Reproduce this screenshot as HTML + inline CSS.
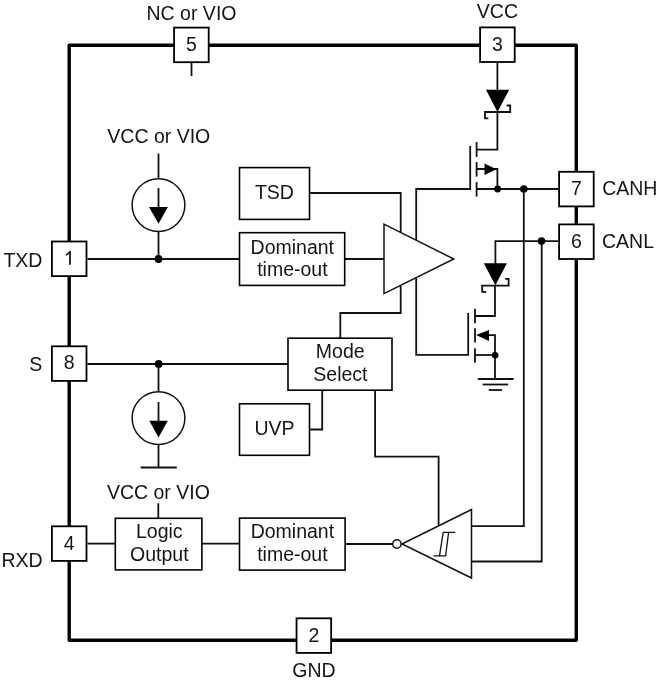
<!DOCTYPE html>
<html><head><meta charset="utf-8">
<style>
html,body{margin:0;padding:0;background:#fff;}
body{width:660px;height:680px;overflow:hidden;}
svg{display:block;filter:grayscale(1);}
text{font-family:"Liberation Sans",sans-serif;font-size:19.5px;fill:#151515;}
</style></head>
<body>
<svg width="660" height="680" viewBox="0 0 660 680">
<!-- outer border -->
<rect x="69.2" y="45.3" width="507.1" height="595" fill="none" stroke="#000" stroke-width="3.4" stroke-linejoin="round"/>

<g fill="none" stroke="#111" stroke-width="1.8">
<!-- wires -->
<!-- pin5 tick -->
<line x1="191.5" y1="62" x2="191.5" y2="76"/>
<!-- pin3 to diode -->
<line x1="497.4" y1="62" x2="497.4" y2="90"/>
<!-- diode1 cathode -->
<polyline points="506.6,105.5 510.2,105.5 510.2,112 485,112 485,118.3 488.4,118.3"/>
<!-- to drain -->
<polyline points="497.4,111 497.4,149.6 476.6,149.6"/>
<!-- transistor1 channel -->
<line x1="476.6" y1="142.1" x2="476.6" y2="156.9"/>
<line x1="476.6" y1="162.1" x2="476.6" y2="176.6"/>
<line x1="476.6" y1="182.1" x2="476.6" y2="196.6"/>
<!-- gate1 -->
<polyline points="416.2,240 416.2,189 470.2,189 470.2,146"/>
<!-- body1 -->
<polyline points="476.6,169 497.4,169 497.4,189"/>
<!-- source1 / CANH -->
<line x1="476.6" y1="189" x2="558" y2="189"/>
<polyline points="523.8,189 523.8,526.2 471.2,526.2"/>
<!-- CANL -->
<polyline points="558,241.1 495.4,241.1 495.4,264"/>
<polyline points="541.7,241 541.7,561.5 471.2,561.5"/>
<!-- diode2 cathode -->
<polyline points="505.2,278.9 508.6,278.9 508.6,285.6 482.2,285.6 482.2,291.8 486.2,291.8"/>
<polyline points="495,285 495,316 475,316"/>
<!-- transistor2 channel -->
<line x1="475" y1="308.7" x2="475" y2="323.2"/>
<line x1="475" y1="328.2" x2="475" y2="342.6"/>
<line x1="475" y1="348.2" x2="475" y2="362.8"/>
<!-- gate2 -->
<polyline points="416.2,278 416.2,354.9 468.2,354.9 468.2,313.1"/>
<!-- body2 -->
<polyline points="486,335.1 495,335.1 495,379"/>
<line x1="475" y1="355" x2="495" y2="355"/>
<!-- ground -->
<line x1="477.8" y1="379" x2="513.6" y2="379"/>
<line x1="482.7" y1="384.5" x2="508.2" y2="384.5"/>
<line x1="488.8" y1="390" x2="502" y2="390"/>

<!-- driver wires -->
<line x1="87.4" y1="259" x2="240" y2="259"/>
<line x1="344" y1="259" x2="384" y2="259"/>
<polyline points="309,193 400.7,193 400.7,232"/>
<polyline points="400.7,286 400.7,313 340.3,313 340.3,338"/>
<!-- current source 1 -->
<line x1="158.5" y1="153.5" x2="158.5" y2="179"/>
<circle cx="158.5" cy="205.1" r="26.4" stroke-width="1.5"/>
<line x1="158.5" y1="188" x2="158.5" y2="210"/>
<line x1="158.5" y1="231" x2="158.5" y2="259"/>
<!-- pin 8 wire -->
<line x1="87.4" y1="364" x2="288" y2="364"/>
<line x1="158.5" y1="364" x2="158.5" y2="392"/>
<circle cx="158.5" cy="418.1" r="26.4" stroke-width="1.5"/>
<line x1="158.5" y1="402" x2="158.5" y2="423"/>
<line x1="158.5" y1="444" x2="158.5" y2="467.5"/>
<line x1="140.7" y1="467.5" x2="176.8" y2="467.5"/>
<!-- UVP wire -->
<polyline points="309,429.5 322.2,429.5 322.2,390"/>
<!-- mode select to receiver -->
<polyline points="375.1,390 375.1,456.7 438.6,456.7 438.6,525"/>
<!-- bottom row -->
<line x1="87.4" y1="543.6" x2="115.5" y2="543.6"/>
<line x1="158.3" y1="503.3" x2="158.3" y2="518"/>
<line x1="201.6" y1="543.7" x2="240" y2="543.7"/>
<line x1="345" y1="544" x2="392.7" y2="544"/>
</g>

<!-- boxes -->
<g fill="#fff" stroke="#000" stroke-width="1.8">
<rect x="174.10" y="27.60" width="34.60" height="34.60"/>
<rect x="480.10" y="27.40" width="34.60" height="34.60"/>
<rect x="51.90" y="241.50" width="34.60" height="34.60"/>
<rect x="51.90" y="346.30" width="34.60" height="34.60"/>
<rect x="51.90" y="526.30" width="34.60" height="34.60"/>
<rect x="559.10" y="171.80" width="34.60" height="34.60"/>
<rect x="559.10" y="224.40" width="34.60" height="34.60"/>
<rect x="296.55" y="618.30" width="34.60" height="34.60"/>

</g>
<g fill="#fff" stroke="#000" stroke-width="1.6">
<rect x="239.5" y="167.6" width="70" height="51.8"/>
<rect x="239.5" y="232.7" width="105.2" height="52.7"/>
<rect x="288" y="338.2" width="104" height="52"/>
<rect x="239.5" y="403.8" width="70" height="51.5"/>
<rect x="115.3" y="518.3" width="86.6" height="51.6"/>
<rect x="239.5" y="518.1" width="105.6" height="52"/>
</g>

<!-- triangles -->
<g fill="#fff" stroke="#111" stroke-width="1.5" stroke-linejoin="miter">
<polygon points="384,224.2 384,293.6 453.8,259"/>
<polygon points="402,544 471.5,509.5 471.5,578"/>
<circle cx="396.9" cy="544" r="4.2"/>
</g>
<!-- hysteresis -->
<g fill="none" stroke="#111" stroke-width="1.3">
<polyline points="455.3,532.4 443.2,532.4 439.5,555.9 433.5,555.9"/>
<polyline points="448.6,532.4 445.6,555.9 439.5,555.9"/>
</g>
<!-- filled shapes -->
<g fill="#000" stroke="none">
<polygon points="486,89.7 509.2,89.7 497.5,112"/>
<polygon points="483.8,263.3 506.9,263.3 495.4,285.2"/>
<polygon points="484.5,163.5 484.5,175 496.3,169.2"/>
<polygon points="476,335.1 489,330 489,340.9"/>
<polygon points="149,207.1 167.9,207.1 158.5,223.7"/>
<polygon points="149.3,420.7 167.8,420.7 158.5,437.4"/>
<circle cx="497.6" cy="189" r="3.4"/>
<circle cx="523.8" cy="189" r="3.8"/>
<circle cx="541.5" cy="241.1" r="3.8"/>
<circle cx="495.1" cy="355.3" r="3.3"/>
<circle cx="158.5" cy="259" r="3.9"/>
<circle cx="158.7" cy="364" r="3.9"/>
</g>

<!-- labels -->
<g text-anchor="middle">
<text x="191.5" y="20">NC or VIO</text>
<text x="497.4" y="18.2">VCC</text>
<text x="22.9" y="266.8">TXD</text>
<text x="35.8" y="371.4">S</text>
<text x="22.1" y="566.5">RXD</text>
<text x="629.8" y="194.5">CANH</text>
<text x="628" y="247.8">CANL</text>
<text x="314" y="677.1">GND</text>
<text x="158.8" y="143.2">VCC or VIO</text>
<text x="158.4" y="498.5">VCC or VIO</text>
<text x="274.4" y="199.2">TSD</text>
<text x="292.3" y="253.5">Dominant</text>
<text x="292.4" y="276.2">time-out</text>
<text x="340.2" y="358.1">Mode</text>
<text x="340.4" y="381">Select</text>
<text x="274.5" y="434.6">UVP</text>
<text x="159.3" y="538.4">Logic</text>
<text x="159.3" y="561.2">Output</text>
<text x="292.4" y="538.1">Dominant</text>
<text x="292.4" y="561.1">time-out</text>
<text x="191.40" y="50.60">5</text>
<text x="497.40" y="50.50">3</text>
<text x="69.20" y="369.40">8</text>
<text x="69.20" y="550.40">4</text>
<text x="576.40" y="194.80">7</text>
<text x="576.40" y="248.30">6</text>
<text x="313.85" y="641.80">2</text>

</g>
<path fill="#151515" d="M69.1,250.9 L70.9,250.9 L70.9,264.8 L69.1,264.8 L69.1,253.8 Q67.9,255.1 65.8,256 L65.8,254.2 Q68,253 69.1,250.9 Z"/>
</svg>
</body></html>
